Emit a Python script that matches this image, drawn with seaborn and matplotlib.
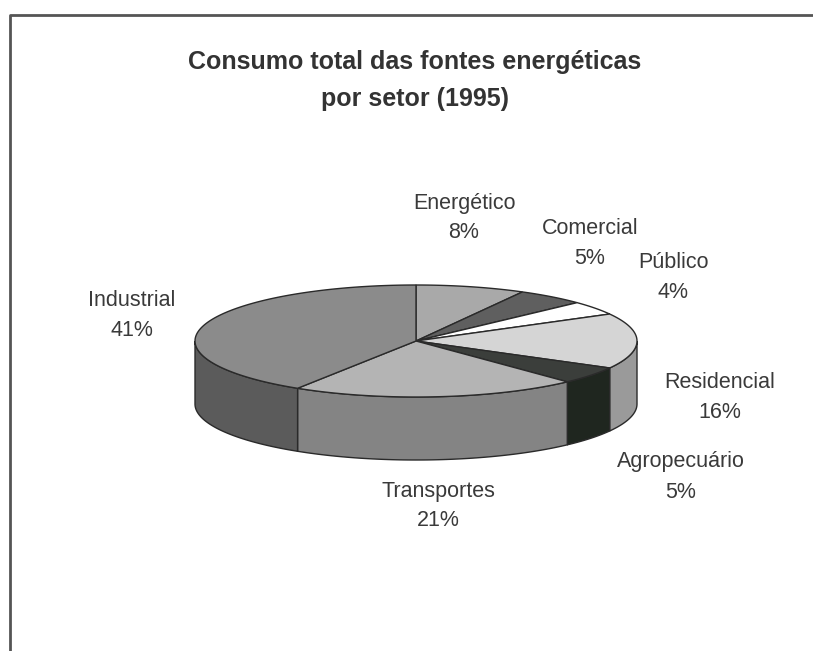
import numpy as np
import matplotlib.pyplot as plt
import seaborn as sns
from matplotlib.patches import Polygon

sns.set_theme(style="white")
plt.rcParams["font.family"] = ["Liberation Sans", "DejaVu Sans"]

# Data: sectors in clockwise order starting at 12 o'clock
sectors = ["Energético", "Comercial", "Público", "Residencial", "Agropecuário", "Transportes", "Industrial"]
shares = [8, 5, 4, 16, 5, 21, 41]

# Fill colours (top face / side wall)
top_colors = ["#a9a9a9", "#5f5f5f", "#ffffff", "#d5d5d5", "#3b3e3b", "#b4b4b4", "#8b8b8b"]
side_colors = ["#808080", "#454545", "#cccccc", "#9a9a9a", "#1f261f", "#848484", "#5b5b5b"]

# Label anchor offsets from the pie centre (layout only)
label_offsets = [(48, -123), (174, -98), (257, -63), (304, 56), (265, 136), (22, 165), (-284, -25)]

# Pie geometry in figure pixels
cx, cy, rx, ry, depth = 416, 341, 221, 56, 63
edge = "#2a2a2a"


def ellipse_pts(a_from, a_to, dz=0.0, n=None):
    if n is None:
        n = max(2, int(abs(a_from - a_to)) + 1)
    t = np.radians(np.linspace(a_from, a_to, n))
    return np.column_stack([cx + rx * np.cos(t), cy - ry * np.sin(t) + dz])


fig = plt.figure(figsize=(8.13, 6.51), dpi=100)
ax = fig.add_axes([0, 0, 1, 1])
ax.set_xlim(0, 813)
ax.set_ylim(651, 0)
ax.axis("off")

total = float(sum(shares))
angles = 90 - 360 * np.concatenate([[0], np.cumsum(shares)]) / total

# side walls (front half only: angles between -180 and 0)
for i in range(len(shares)):
    a0, a1 = angles[i], angles[i + 1]
    s0, s1 = min(a0, 0), max(a1, -180)
    if s0 <= s1:
        continue
    top_arc = ellipse_pts(s0, s1)
    bot_arc = ellipse_pts(s1, s0, dz=depth)
    ax.add_patch(Polygon(np.vstack([top_arc, bot_arc]), closed=True,
                         facecolor=side_colors[i], edgecolor=edge, lw=1.0, zorder=2))

# top faces
for i in range(len(shares)):
    arc = ellipse_pts(angles[i], angles[i + 1])
    poly = np.vstack([[cx, cy], arc])
    ax.add_patch(Polygon(poly, closed=True, facecolor=top_colors[i],
                         edgecolor=edge, lw=1.0, zorder=3))

# labels
for name, val, (dx, dy) in zip(sectors, shares, label_offsets):
    ax.text(cx + dx, cy + dy - 15, name, ha="center", va="center",
            fontsize=15.5, color="#3a3a3a")
    ax.text(cx + dx, cy + dy + 15, f"{val}%", ha="center", va="center",
            fontsize=15.5, color="#3a3a3a")

# title
ax.text(415, 62, "Consumo total das fontes energéticas", ha="center", va="center",
        fontsize=18, fontweight="bold", color="#333333")
ax.text(415, 99, "por setor (1995)", ha="center", va="center",
        fontsize=18, fontweight="bold", color="#333333")

# chart frame
ax.plot([10, 10, 813], [651, 15, 15], color="#555555", lw=2, zorder=1)

fig.savefig("out.png", dpi=100)
